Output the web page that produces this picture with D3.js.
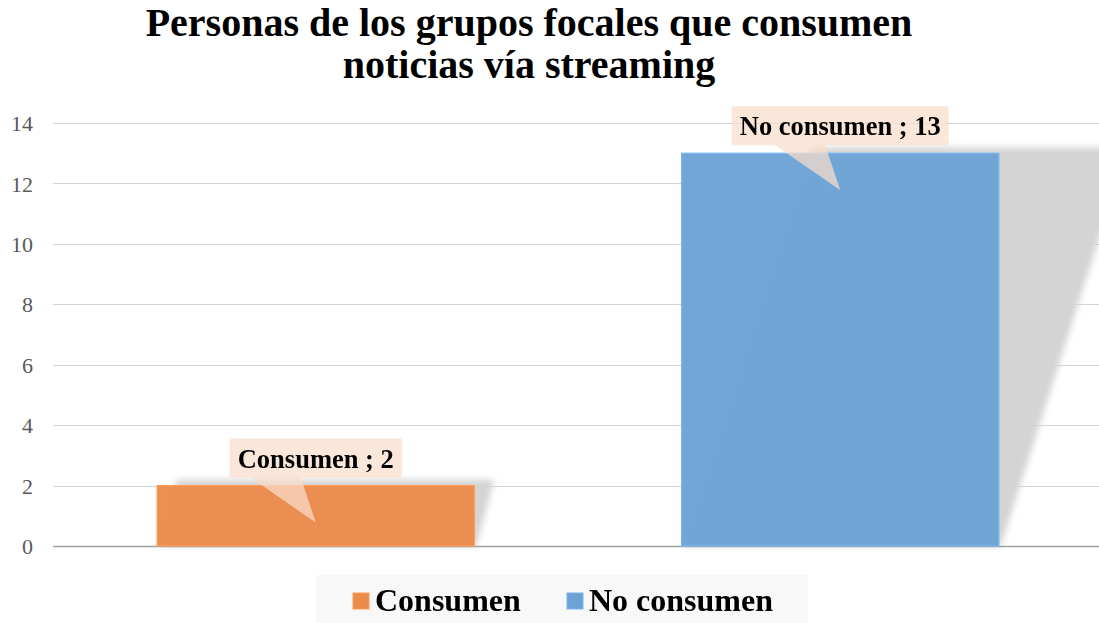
<!DOCTYPE html>
<html>
<head>
<meta charset="utf-8">
<script src="https://cdn.jsdelivr.net/npm/d3@7"></script>
<style>
  html, body { margin: 0; padding: 0; background: #fff; }
  svg { display: block; }
</style>
</head>
<body>
<svg id="chart" width="1099" height="623"></svg>
<script>
// Chart data
const titleLines = ["Personas de los grupos focales que consumen", "noticias vía streaming"];
const seriesNames = ["Consumen", "No consumen"];
const seriesValues = [2, 13];
const seriesColors = ["#EA8B4B", "#6CA2D5"];
const yTicks = [0, 2, 4, 6, 8, 10, 12, 14];

const W = 1099, H = 623;
const svg = d3.select("#chart");
const serif = "'Liberation Serif', 'Times New Roman', serif";

const plot = { left: 53, right: 1099, top: 123, bottom: 546 };

const x = d3.scaleBand()
  .domain(seriesNames)
  .range([plot.left, plot.right + 4])
  .paddingInner(0.395)
  .paddingOuter(0.1985);

const y = d3.scaleLinear()
  .domain([0, 14])
  .range([plot.bottom, plot.top]);

const defs = svg.append("defs");
defs.append("filter")
  .attr("id", "shadowBlur")
  .attr("x", "-20%").attr("y", "-20%").attr("width", "140%").attr("height", "140%")
  .append("feGaussianBlur").attr("stdDeviation", 3);

// Title
svg.append("g")
  .selectAll("text")
  .data(titleLines)
  .join("text")
  .attr("x", 529)
  .attr("y", (d, i) => 36 + i * 42)
  .attr("text-anchor", "middle")
  .attr("font-family", serif)
  .attr("font-weight", "bold")
  .attr("font-size", 40)
  .attr("fill", "#000")
  .text(d => d);

// Perspective shadows cast behind the bars
const skew = 0.33;
svg.append("g")
  .attr("filter", "url(#shadowBlur)")
  .selectAll("path")
  .data(seriesValues)
  .join("path")
  .attr("d", (d, i) => {
    const x0 = x(seriesNames[i]), x1 = x0 + x.bandwidth();
    const top = y(d), bot = y(0);
    const h = bot - top;
    const dx = skew * h;
    return `M${x0 + 2},${bot} L${x0 + dx},${top - 6} L${x1 + dx},${top - 6} L${x1 + 2},${bot} Z`;
  })
  .attr("fill", "#d2d2d2")
  .attr("opacity", 0.95);

// Gridlines
const grid = svg.append("g");
grid.selectAll("line")
  .data(yTicks)
  .join("line")
  .attr("x1", plot.left)
  .attr("x2", plot.right)
  .attr("y1", d => Math.round(y(d)) + 0.5)
  .attr("y2", d => Math.round(y(d)) + 0.5)
  .attr("stroke", d => d === 0 ? "#a0a0a0" : "#d4d4d4")
  .attr("stroke-width", d => d === 0 ? 1.5 : 1);

// Y axis labels
const yAxis = d3.axisLeft(y).tickValues(yTicks).tickSize(0).tickPadding(0);
const yG = svg.append("g")
  .attr("transform", `translate(33,0)`)
  .call(yAxis);
yG.attr("font-family", serif).attr("font-size", 22);
yG.select(".domain").remove();
yG.selectAll("text")
  .style("font-family", serif)
  .attr("font-size", 22)
  .attr("fill", "#595959")
  .attr("dy", "0.35em");

// Bars
svg.append("g")
  .selectAll("rect")
  .data(seriesValues)
  .join("rect")
  .attr("x", (d, i) => x(seriesNames[i]))
  .attr("y", d => y(d))
  .attr("width", x.bandwidth())
  .attr("height", d => y(0) - y(d))
  .attr("fill", (d, i) => seriesColors[i])
  .attr("fill-opacity", 0.96)
  .attr("stroke", (d, i) => d3.color(seriesColors[i]).brighter(0.35))
  .attr("stroke-width", 1.2);

// Callout data labels
const labelG = svg.append("g");
seriesValues.forEach((v, i) => {
  const cx = x(seriesNames[i]) + x.bandwidth() / 2;
  const barTop = y(v);
  const label = `${seriesNames[i]} ; ${v}`;
  const g = labelG.append("g");
  const t = g.append("text")
    .attr("x", cx)
    .attr("y", barTop - 18)
    .attr("text-anchor", "middle")
    .attr("font-family", serif)
    .attr("font-weight", "bold")
    .attr("font-size", 26.5)
    .attr("fill", "#000")
    .text(label);
  const bb = t.node().getBBox();
  const bx0 = bb.x - 8, bx1 = bb.x + bb.width + 8;
  const by0 = barTop - 47, by1 = barTop - 8;
  const tipX = cx, tipY = barTop + 37;
  const p1 = cx - 65, p2 = cx - 15;
  const path = `M${bx0},${by0} L${bx1},${by0} L${bx1},${by1} L${p2},${by1} L${tipX},${tipY} L${p1},${by1} L${bx0},${by1} Z`;
  g.insert("path", "text")
    .attr("d", path)
    .attr("fill", "#F9DECB")
    .attr("fill-opacity", 0.72);
});

// Legend
const legend = svg.append("g");
legend.append("rect")
  .attr("x", 316).attr("y", 575)
  .attr("width", 492).attr("height", 48)
  .attr("fill", "#f8f8f8");
const legendX = [353, 567];
seriesNames.forEach((name, i) => {
  legend.append("rect")
    .attr("x", legendX[i]).attr("y", 593)
    .attr("width", 16).attr("height", 16)
    .attr("fill", seriesColors[i])
    .attr("stroke", d3.color(seriesColors[i]).brighter(0.3))
    .attr("stroke-width", 1);
  legend.append("text")
    .attr("x", legendX[i] + 22)
    .attr("y", 611)
    .attr("font-family", serif)
    .attr("font-weight", "bold")
    .attr("font-size", 32)
    .attr("fill", "#000")
    .text(name);
});
</script>
</body>
</html>
